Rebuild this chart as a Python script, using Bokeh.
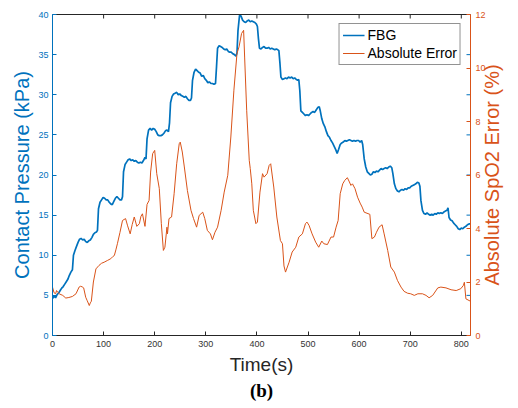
import math
from bokeh.plotting import figure
from bokeh.models import LinearAxis, Range1d, FixedTicker, Legend, Title
from bokeh.embed import file_html
from bokeh.resources import INLINE

# ---- data ----
fbg_t = [0, 3, 6, 9, 12, 15, 18, 21, 24, 27, 30, 33, 36, 39, 41, 44, 47, 50, 53, 56, 59, 62, 65, 68, 71, 74, 77, 80, 83, 86, 88,
         90, 93, 96, 99, 102, 105, 108, 111, 114, 117, 120, 123, 126, 129, 132, 135, 137,
         139, 142, 145, 148, 151, 154, 157, 160, 163, 166, 169, 172, 175, 178, 181, 183,
         185, 188, 191, 194, 197, 200, 203, 206, 209, 212, 215, 218, 221, 224, 227, 229,
         231, 234, 237, 240, 243, 246, 249, 252, 255, 258, 261, 264, 267, 270, 272,
         274, 277, 280, 283, 286, 289, 292, 295, 298, 301, 304, 307, 310, 313, 316, 319,
         321, 323, 326, 329, 332, 335, 338, 341, 344, 347, 350, 353, 356, 359, 361,
         363, 366, 369, 372, 375, 378, 381, 384, 387, 390, 393, 396, 399, 401,
         403, 405, 408, 411, 414, 417, 420, 423, 426, 429, 432, 435, 438, 441, 443,
         445, 447, 450, 453, 456, 459, 462, 465, 468, 471, 474, 477, 480, 482,
         484, 486, 489, 492, 495, 498, 501, 504, 507, 510, 513, 516, 519, 522,
         524, 527, 530, 533, 536, 539, 542, 545, 548, 551, 554, 557, 560, 563, 566, 569, 572, 575, 578, 581, 584, 587, 590, 593, 596, 599, 602, 605,
         607, 610, 613, 616, 619, 622, 625, 628, 631, 634, 637, 640, 643, 646, 649, 652, 655, 658, 661, 664,
         666, 669, 672, 675, 678, 681, 684, 687, 690, 693, 696, 699, 702, 705, 708, 711, 714, 717, 719,
         721, 724, 727, 730, 733, 736, 739, 742, 745, 748, 751, 754, 757, 760, 763, 766, 769, 772, 774,
         776, 779, 782, 785, 788, 791, 794, 797, 800, 803, 806, 809, 812, 815, 818]
fbg_v = [4.6, 4.9, 4.7, 5.1, 5.3, 5.6, 5.9, 6.1, 6.4, 6.7, 7.0, 7.5, 7.9, 8.2, 10.0, 10.6, 11.1, 11.6, 12.0, 12.1, 11.9, 12.0, 11.7, 11.6, 11.8, 11.9, 12.2, 12.6, 12.8, 12.9, 13.1,
         15.8, 16.6, 16.9, 17.2, 17.1, 16.9, 16.9, 16.6, 16.4, 16.3, 16.7, 17.1, 17.3, 17.1, 16.9, 16.9, 17.3,
         20.4, 21.3, 21.6, 21.9, 22.0, 21.8, 21.9, 21.7, 21.8, 21.6, 21.5, 21.6, 21.5, 21.8, 22.2, 22.0,
         24.5, 25.6, 25.8, 25.6, 25.8, 25.7, 25.4, 25.0, 24.9, 24.9, 25.0, 25.2, 25.5, 25.6, 25.4, 26.5,
         29.0, 29.8, 30.1, 30.2, 30.3, 30.0, 30.1, 29.9, 29.8, 29.7, 29.8, 29.5, 29.3, 29.3, 29.6,
         31.8, 32.8, 33.2, 33.0, 32.8, 32.7, 32.3, 32.4, 32.0, 31.8, 31.5, 31.6, 31.4, 31.4, 31.3, 31.4,
         33.5, 35.8, 36.1, 36.0, 35.9, 35.7, 35.6, 35.7, 35.4, 35.3, 35.3, 35.1, 35.0, 34.8, 35.2,
         38.0, 39.9, 39.8, 39.3, 39.1, 39.0, 39.2, 39.3, 39.1, 39.2, 39.1, 39.0, 38.8, 38.5,
         37.0, 35.8, 35.7, 35.9, 36.0, 35.8, 35.8, 35.9, 35.7, 35.8, 35.7, 35.6, 35.7, 35.6, 35.5,
         34.0, 32.2, 31.9, 32.0, 32.1, 32.0, 32.2, 32.1, 32.2, 32.0, 32.1, 31.9, 31.8, 31.9,
         30.5, 28.0, 27.8, 27.6, 27.4, 27.5, 27.4, 27.6, 27.8, 27.9, 27.8, 28.1, 28.4, 28.5,
         28.0, 27.0, 26.4, 26.0, 25.4, 24.9, 24.7, 24.3, 24.0, 23.6, 23.2, 22.7, 23.2, 23.8, 24.0, 24.1, 24.3, 24.2, 24.3, 24.4, 24.3, 24.2, 24.3, 24.2, 24.3, 24.3, 24.1, 24.3,
         23.8, 22.0, 21.0, 20.4, 20.2, 20.0, 20.1, 20.4, 20.3, 20.5, 20.4, 20.6, 20.8, 20.7, 20.8, 20.9, 20.8, 21.0, 21.1, 20.9,
         20.2, 18.9, 18.3, 18.0, 17.9, 18.1, 18.2, 18.1, 18.3, 18.2, 18.4, 18.4, 18.6, 18.7, 18.8, 18.9, 19.1, 19.0, 18.6,
         16.8, 15.6, 15.2, 15.1, 15.3, 15.1, 15.0, 15.1, 15.0, 15.2, 15.1, 15.3, 15.2, 15.3, 15.2, 15.4, 15.5, 15.6, 15.9,
         14.7, 14.4, 14.3, 14.0, 13.8, 13.6, 13.3, 13.2, 13.4, 13.3, 13.5, 13.6, 13.8, 13.9, 13.9]

err_t = [0, 3, 6, 8, 10, 14, 20, 26, 32, 39, 46, 52, 55, 58, 61, 65, 68, 72, 74, 76, 80, 85, 91, 96, 101, 108, 114, 118, 121,
         124, 127, 132, 137, 143, 147, 152, 156, 160, 165, 170, 173, 176, 181, 185, 189, 192, 196, 200, 204, 209, 213,
         217, 220, 224, 225, 228, 233, 238, 243, 248, 250, 254, 258, 264, 271, 276, 282, 287, 294, 298, 303, 309, 313,
         318, 323, 330, 336, 343, 349, 355, 361, 365, 370, 374, 376, 380, 385, 387, 390, 393, 398, 401, 406, 411, 414,
         420, 424, 427, 433, 439, 446, 450, 453, 456, 463, 469, 476, 482, 489, 495, 498, 502, 508, 515, 521, 527, 531,
         538, 545, 550, 555, 559, 563, 568, 572, 577, 581, 584, 587, 592, 597, 602, 606, 610, 621, 625, 630, 634, 639,
         645, 649, 656, 662, 669, 675, 682, 688, 695, 701, 708, 715, 724, 731, 737, 744, 754, 760, 770, 780, 790, 799,
         804, 806, 809, 818]
err_v = [1.81, 1.60, 1.56, 1.68, 1.62, 1.55, 1.50, 1.40, 1.42, 1.46, 1.56, 1.81, 1.84, 1.82, 1.78, 1.43, 1.30, 1.12, 1.22, 1.28, 2.00, 2.49, 2.62, 2.70, 2.74, 2.81, 2.87, 2.95, 2.99,
         3.20, 3.43, 3.85, 4.30, 4.37, 4.10, 3.80, 4.15, 4.43, 4.08, 4.18, 4.45, 4.55, 4.08, 4.90, 5.05, 6.11, 6.80, 6.92, 6.05, 5.49, 4.18,
         3.18, 3.30, 4.05, 3.80, 4.37, 4.43, 5.30, 6.42, 7.17, 7.23, 6.86, 6.30, 5.42, 4.68, 4.37, 4.05, 4.49, 4.61, 4.37, 3.93, 3.80, 3.58,
         3.86, 4.05, 4.68, 5.36, 5.99, 7.42, 9.17, 10.54, 10.79, 11.29, 11.41, 10.41, 8.42, 6.55, 6.24, 5.67, 4.68, 4.18, 4.24, 5.36, 6.05, 5.92,
         6.05, 6.36, 6.42, 5.55, 4.43, 3.55, 3.43, 2.60, 2.37, 2.74, 3.12, 3.30, 3.68, 3.80, 4.18, 4.24, 4.12, 3.80, 3.49, 3.30, 3.53, 3.43,
         3.40, 3.68, 3.68, 4.05, 4.30, 5.30, 5.67, 5.80, 5.90, 5.74, 5.61, 5.67, 5.49, 5.17, 4.95, 4.80, 4.61, 4.53, 3.62, 3.68, 3.86, 4.05,
         4.14, 3.80, 3.18, 2.56, 2.37, 2.06, 1.81, 1.65, 1.58, 1.56, 1.50, 1.56, 1.56, 1.50, 1.41, 1.50, 1.78, 1.81, 1.78, 1.71, 1.68, 1.75,
         1.87, 1.99, 1.37, 1.28]

x_ticks = [0, 100, 200, 300, 400, 500, 600, 700, 800]
left_ticks = [0, 5, 10, 15, 20, 25, 30, 35, 40]
right_ticks = [0, 2, 4, 6, 8, 10, 12]
X_END, Y_END, E_END = 818, 40, 12
right_label = "Absolute SpO2 Error (%)"

BLUE = "#0072BD"
ORANGE = "#D95319"
DARK = "#262626"
FONT = "Liberation Sans"

W, H = 518, 408
B_LEFT, B_RIGHT, B_TOP, B_BOTTOM = 52, 48, 14, 73
LABEL_SIZE = 20

# Arial / Liberation Sans advance widths (per 1000 em) to centre the rotated right label
ADV = {"A": 667, "b": 556, "s": 500, "o": 556, "l": 222, "u": 556, "t": 278, "e": 556, " ": 278,
       "S": 667, "p": 556, "O": 778, "2": 556, "E": 667, "r": 333, "(": 333, "%": 889, ")": 333}
label_px = sum(ADV.get(c, 556) for c in right_label) * LABEL_SIZE / 1000.0
frame_h = H - B_TOP - B_BOTTOM
label_start = E_END / 2 - (label_px / 2) * E_END / frame_h

p = figure(width=W, height=H, output_backend="svg", toolbar_location=None,
           x_range=Range1d(0, X_END), y_range=Range1d(0, Y_END),
           min_border_left=B_LEFT, min_border_right=B_RIGHT, min_border_top=B_TOP, min_border_bottom=B_BOTTOM)
p.extra_y_ranges = {"err": Range1d(0, E_END)}
p.outline_line_color = None
p.xgrid.visible = False
p.ygrid.visible = False
p.background_fill_color = "white"
p.border_fill_color = "white"

# bottom x axis
xa = p.xaxis[0]
xa.ticker = FixedTicker(ticks=x_ticks)
xa.axis_label = "Time(s)"
xa.axis_label_text_font = FONT
xa.axis_label_text_font_style = "normal"
xa.axis_label_text_font_size = "19px"
xa.axis_label_text_color = DARK
xa.axis_label_standoff = 4
xa.major_label_text_font = FONT
xa.major_label_text_font_size = "9px"
xa.major_label_text_color = "#333333"
xa.major_label_standoff = 5
xa.major_tick_in = 4
xa.major_tick_out = 0
xa.minor_tick_line_color = None
xa.axis_line_color = DARK
xa.major_tick_line_color = DARK

# left y axis
ya = p.yaxis[0]
ya.ticker = FixedTicker(ticks=left_ticks)
ya.axis_label = "Contact Pressure (kPa)"
ya.axis_label_text_font = FONT
ya.axis_label_text_font_style = "normal"
ya.axis_label_text_font_size = f"{LABEL_SIZE}px"
ya.axis_label_text_color = BLUE
ya.axis_label_standoff = 2
ya.major_label_text_font = FONT
ya.major_label_text_font_size = "9px"
ya.major_label_text_color = BLUE
ya.major_label_standoff = 4
ya.major_tick_in = 4
ya.major_tick_out = 0
ya.minor_tick_line_color = None
ya.axis_line_color = BLUE
ya.major_tick_line_color = BLUE

# right orange axis
ra = LinearAxis(y_range_name="err", ticker=FixedTicker(ticks=right_ticks),
                major_label_text_font=FONT, major_label_text_font_size="9px",
                major_label_text_color=ORANGE, major_label_standoff=5,
                major_tick_in=4, major_tick_out=0, minor_tick_line_color=None,
                axis_line_color=ORANGE, major_tick_line_color=ORANGE)
p.add_layout(ra, "right")

# right-axis title, reading bottom-to-top (drawn as a single rotated tick label)
rl = LinearAxis(y_range_name="err", ticker=FixedTicker(ticks=[label_start]),
                major_label_overrides={label_start: right_label},
                major_label_orientation=math.pi / 2,
                major_label_text_font=FONT, major_label_text_font_size=f"{LABEL_SIZE}px",
                major_label_text_color=ORANGE, major_label_standoff=4,
                major_tick_in=0, major_tick_out=0, minor_tick_line_color=None,
                axis_line_color=None, major_tick_line_color=None)
p.add_layout(rl, "right")

# top axis line
p.add_layout(LinearAxis(ticker=FixedTicker(ticks=[]), major_tick_in=0, major_tick_out=0,
                        minor_tick_line_color=None, axis_line_color=DARK,
                        major_label_text_color=None), "above")

# mirrored ticks: top (x ticks) and right (left-axis ticks, blue)
p.ray(x=x_ticks, y=[Y_END] * len(x_ticks), length=4, length_units="screen",
      angle=-math.pi / 2, line_color=DARK, line_width=1)
p.ray(x=[X_END] * len(left_ticks), y=left_ticks, length=4, length_units="screen",
      angle=math.pi, line_color=BLUE, line_width=1)

r_fbg = p.line(fbg_t, fbg_v, line_color=BLUE, line_width=1.7)
r_err = p.line(err_t, err_v, line_color=ORANGE, line_width=1, y_range_name="err")

legend = Legend(items=[("FBG", [r_fbg]), ("Absolute Error", [r_err])], location="top_right",
                label_text_font=FONT, label_text_font_size="14px", label_text_color="black",
                glyph_width=22, glyph_height=14, label_standoff=3, label_height=16,
                spacing=2, padding=3, margin=9,
                border_line_color=DARK, border_line_width=1, background_fill_alpha=1)
p.add_layout(legend)

p.add_layout(Title(text="(b)", align="center", text_font="Liberation Serif",
                   text_font_style="bold", text_font_size="19px", text_color="black",
                   standoff=0), "below")

open("out.html", "w").write(file_html(p, INLINE))
